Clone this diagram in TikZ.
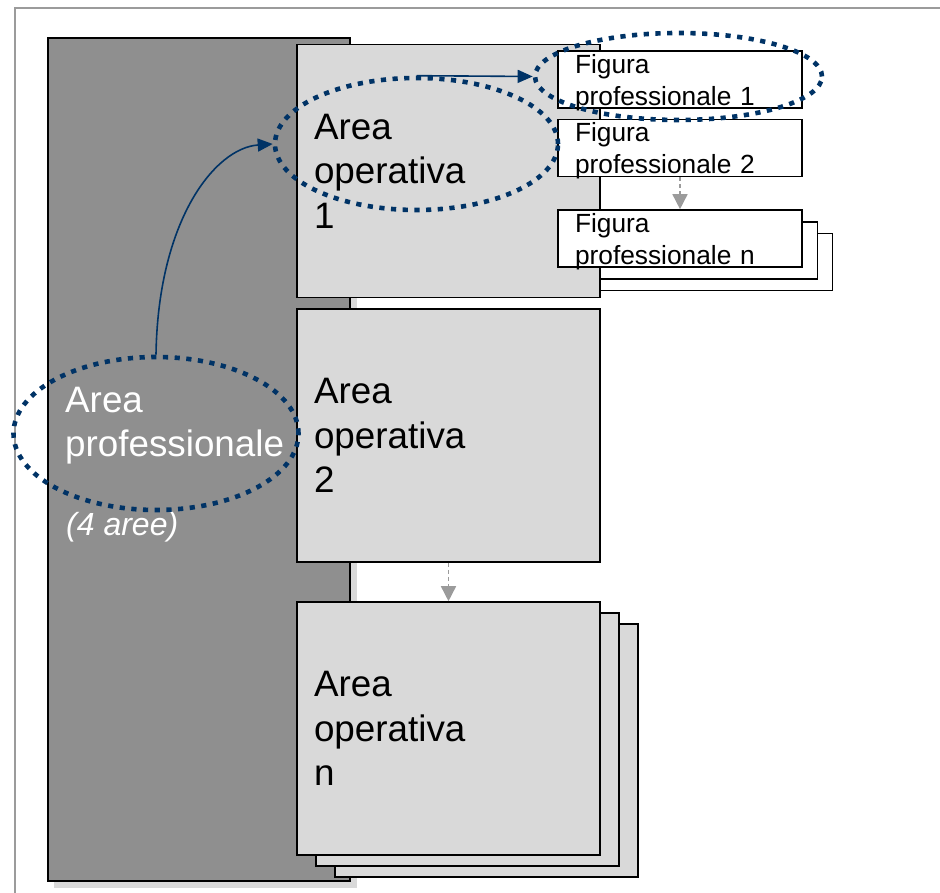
\documentclass[tikz,border=0pt]{standalone}
\usepackage{fontspec}
\setmainfont{Liberation Sans}
\usetikzlibrary{arrows.meta,shapes.geometric}
\definecolor{navy}{RGB}{0,51,102}
\definecolor{boxgray}{RGB}{217,217,217}
\definecolor{profgray}{RGB}{143,143,143}
\definecolor{framegray}{RGB}{155,155,155}
\begin{document}
\begin{tikzpicture}[x=1pt,y=1pt,
        areabox/.style={draw=black,line width=1.6pt,fill=boxgray,minimum width=303pt,minimum height=253pt,
            inner xsep=17pt,inner ysep=0pt,text width=269pt,align=left,font=\fontsize{36.8}{44.5}\selectfont},
        figbox/.style={draw=black,line width=1.6pt,fill=white,minimum width=244pt,minimum height=57pt,
            inner xsep=17pt,inner ysep=0pt,text width=210pt,text depth=32pt,align=left,font=\fontsize{26.3}{32}\selectfont},
        ringline/.style={ellipse,draw=navy,line width=4.6pt,dash pattern=on 5.2pt off 6.5pt,inner sep=0pt},
        bluelink/.style={draw=navy,line width=1.6pt,-{Triangle[length=15pt,width=13pt]}},
        grayfollow/.style={draw=framegray,line width=1.6pt,dash pattern=on 4pt off 3pt,-{Triangle[length=15pt,width=15pt]}}]
        \useasboundingbox (0,0) rectangle (940,892);
        \draw[framegray,line width=2pt] (15,-20) rectangle (960,884);

        % area professionale
        \fill[boxgray] (54,4) rectangle (357,847);
        \node[draw=black,line width=1.6pt,fill=profgray,minimum width=302pt,minimum height=843pt] (prof) at (199,432.5) {};

        % stacked copies
        \node[areabox] (opN3) at (486.5,141.5) {};
        \node[areabox] (opN2) at (467.5,152.5) {};
        \node[figbox] (figN3) at (710.5,630) {};
        \node[figbox] (figN2) at (695.5,641.5) {};

        \node[areabox] (opA) at (448.5,721) {Area\\operativa\\1};
        \node[areabox] (opB) at (448.5,456.5) {Area\\operativa\\2};
        \node[areabox] (opN) at (448.5,163.5) {Area\\operativa\\n};
        \node[figbox] (figA) at (680,812.5) {Figura\\professionale 1};
        \node[figbox] (figB) at (680,744) {Figura\\professionale 2};
        \node[figbox] (figN) at (680,653.5) {Figura\\professionale n};

        \node[anchor=north west,inner sep=0pt,text=white,align=left,font=\fontsize{36.8}{43.5}\selectfont] (profText) at (65,505) {Area\\professionale};
        \node[anchor=base west,inner sep=0pt,text=white,font=\itshape\fontsize{32}{38}\selectfont] (profNote) at (66,356) {(4 aree)};

        \draw[grayfollow] (opB.south) -- (opN.north);
        \draw[grayfollow] (figB.south) -- (figN.north);

        \node[ringline,minimum width=285pt,minimum height=153pt] (ellProf) at (156,458.5) {};
        \node[ringline,minimum width=283pt,minimum height=132pt] (ellOp) at (416.5,748) {};
        \node[ringline,minimum width=287pt,minimum height=87pt] (ellFig) at (678.5,815.5) {};

        \draw[bluelink] (ellProf.north) .. controls (158,672) and (215,744) .. (ellOp.west);
        \draw[bluelink] (ellOp.north) -- (ellFig.west);
    \end{tikzpicture}
\end{document}
